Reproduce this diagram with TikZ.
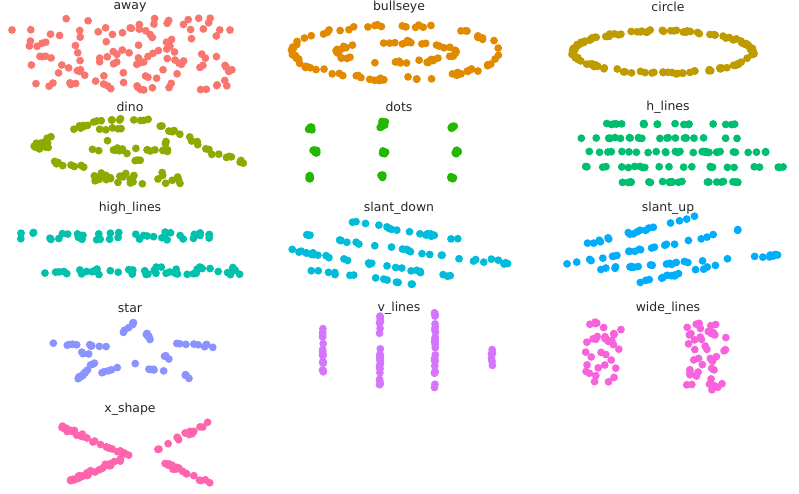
\documentclass[tikz,border=0pt]{standalone}
\usepackage{fontspec}
\setmainfont{DejaVu Sans}
\definecolor{cA}{HTML}{F8766D}\definecolor{cB}{HTML}{E18A00}\definecolor{cC}{HTML}{BE9C00}
\definecolor{cD}{HTML}{8CAB00}\definecolor{cE}{HTML}{24B700}\definecolor{cF}{HTML}{00BE70}
\definecolor{cG}{HTML}{00C1AB}\definecolor{cH}{HTML}{00BBDA}\definecolor{cI}{HTML}{00ACFC}
\definecolor{cJ}{HTML}{8B93FF}\definecolor{cK}{HTML}{D575FE}\definecolor{cL}{HTML}{F962DD}
\definecolor{cM}{HTML}{FF65AC}
\newcommand\dseg[6]{\foreach \i in {1,...,#1}{\pgfmathsetmacro\tt{rnd}\pgfmathsetmacro\px{#2+(#4-#2)*\tt+#6*rand}\pgfmathsetmacro\py{#3+(#5-#3)*\tt+#6*rand}\fill (\px,\py) circle[radius=3.9bp];}}
\newcommand\dbox[5]{\foreach \i in {1,...,#1}{\pgfmathsetmacro\px{#2+#4*rand}\pgfmathsetmacro\py{#3+#5*rand}\fill (\px,\py) circle[radius=3.9bp];}}
\newcommand\dell[6]{\foreach \i in {1,...,#1}{\pgfmathsetmacro\aa{360*rnd}\pgfmathsetmacro\px{#2+#4*cos(\aa)+#6*rand}\pgfmathsetmacro\py{#3+#5*sin(\aa)+#6*rand}\fill (\px,\py) circle[radius=3.9bp];}}
\tikzset{ttl/.style={font=\fontsize{12.5}{14}\selectfont,text=black!85,inner sep=0pt}}
\begin{document}
\begin{tikzpicture}[x=1bp,y=-1bp]
\pgfmathsetseed{7}
\useasboundingbox (0,0) rectangle (799,494);
\node[ttl] (t1) at (130,7) {away};
\node[ttl] (t2) at (399,7) {bullseye};
\node[ttl] (t3) at (668,7) {circle};
\node[ttl] (t4) at (130,107) {dino};
\node[ttl] (t5) at (399,107) {dots};
\node[ttl] (t6) at (668,107) {h\_lines};
\node[ttl] (t7) at (130,208) {high\_lines};
\node[ttl] (t8) at (399,208) {slant\_down};
\node[ttl] (t9) at (668,208) {slant\_up};
\node[ttl] (t10) at (130,308) {star};
\node[ttl] (t11) at (399,308) {v\_lines};
\node[ttl] (t12) at (668,308) {wide\_lines};
\node[ttl] (t13) at (130,409) {x\_shape};
% away
\begin{scope}[fill=cA]
\dbox{120}{130}{54}{105}{36}
\fill (12,30) circle[radius=3.9bp]; \fill (230,30) circle[radius=3.9bp];
\end{scope}
% bullseye
\begin{scope}[fill=cB]
\dell{80}{396}{52}{104}{27}{2}
\dell{50}{396}{52}{60}{10}{2}
\end{scope}
% circle
\begin{scope}[fill=cC]
\dell{120}{663}{52}{90}{21}{1.2}
\end{scope}
% dino
\begin{scope}[fill=cD]
\dseg{6}{35}{145}{60}{132}{2}\dseg{8}{60}{132}{100}{121}{2}\dseg{8}{100}{121}{150}{119}{2}
\dseg{8}{150}{119}{185}{136}{2}\dseg{6}{185}{136}{210}{152}{2}\dseg{8}{210}{152}{250}{164}{2}
\dbox{8}{40}{148}{10}{6}\dseg{8}{50}{162}{100}{170}{2}
\dbox{28}{135}{178}{45}{6}\dseg{12}{60}{152}{170}{149}{2}
\dseg{5}{100}{130}{130}{127}{1}\dseg{8}{105}{140}{140}{162}{2}\dseg{4}{165}{140}{170}{160}{1}
\end{scope}
% dots
\begin{scope}[fill=cE]
\dbox{6}{310}{129}{2}{2}\dbox{6}{315}{152}{2}{2}\dbox{6}{311}{177}{2}{2}
\dbox{8}{383}{124}{3}{4}\dbox{6}{384}{152}{2}{2}\dbox{6}{382}{176}{2}{2}
\dbox{6}{453}{128}{2}{2}\dbox{6}{457}{152}{2}{2}\dbox{6}{453}{177}{2}{2}
\end{scope}
% h_lines
\begin{scope}[fill=cF]
\dseg{18}{600}{124}{740}{124}{0.6}\dseg{22}{570}{138}{740}{138}{0.6}
\dseg{30}{568}{152}{770}{152}{0.6}\dseg{24}{580}{167}{788}{167}{0.6}
\dseg{22}{620}{182}{750}{182}{0.6}
\end{scope}
% high_lines
\begin{scope}[fill=cG]
\dseg{40}{18}{236}{215}{236}{4}\dseg{45}{42}{271}{242}{271}{4}
\end{scope}
% slant_down
\begin{scope}[fill=cH]
\dseg{18}{345}{220}{460}{240}{1.2}\dseg{24}{305}{235}{485}{262}{1.2}
\dseg{26}{288}{250}{470}{280}{1.2}\dseg{14}{310}{270}{420}{285}{1.2}\dseg{6}{490}{258}{510}{265}{1}
\end{scope}
% slant_up
\begin{scope}[fill=cI]
\dseg{18}{585}{245}{700}{215}{1.2}\dseg{24}{565}{265}{740}{230}{1.2}
\dseg{26}{590}{270}{780}{255}{1.2}\dseg{14}{640}{282}{720}{265}{1.2}
\end{scope}
% star
\begin{scope}[fill=cJ]
\dseg{10}{42}{344}{110}{346}{1.5}\dseg{9}{165}{344}{215}{346}{1.5}
\dseg{6}{123}{333}{135}{322}{1}\dseg{5}{145}{332}{153}{343}{1}
\dseg{12}{78}{379}{97}{360}{1.5}\dseg{6}{100}{373}{135}{364}{1}
\dseg{5}{145}{368}{165}{372}{1}\dseg{3}{165}{356}{170}{361}{1}
\dseg{4}{182}{372}{190}{379}{1}\dseg{3}{80}{352}{93}{356}{1}
\end{scope}
% v_lines
\begin{scope}[fill=cK]
\dseg{18}{323}{328}{323}{378}{0.5}\dseg{24}{380}{316}{380}{388}{0.5}
\dseg{24}{435}{312}{435}{388}{0.5}\dseg{7}{492}{345}{492}{366}{0.5}
\end{scope}
% wide_lines
\begin{scope}[fill=cL]
\dbox{35}{603}{352}{18}{30}\dbox{45}{706}{356}{20}{35}
\end{scope}
% x_shape
\begin{scope}[fill=cM]
\dseg{30}{55}{425}{130}{455}{2}\dseg{14}{147}{455}{210}{423}{2}
\dseg{30}{65}{483}{122}{460}{2}\dseg{18}{165}{463}{210}{485}{2}
\end{scope}
\end{tikzpicture}
\end{document}
